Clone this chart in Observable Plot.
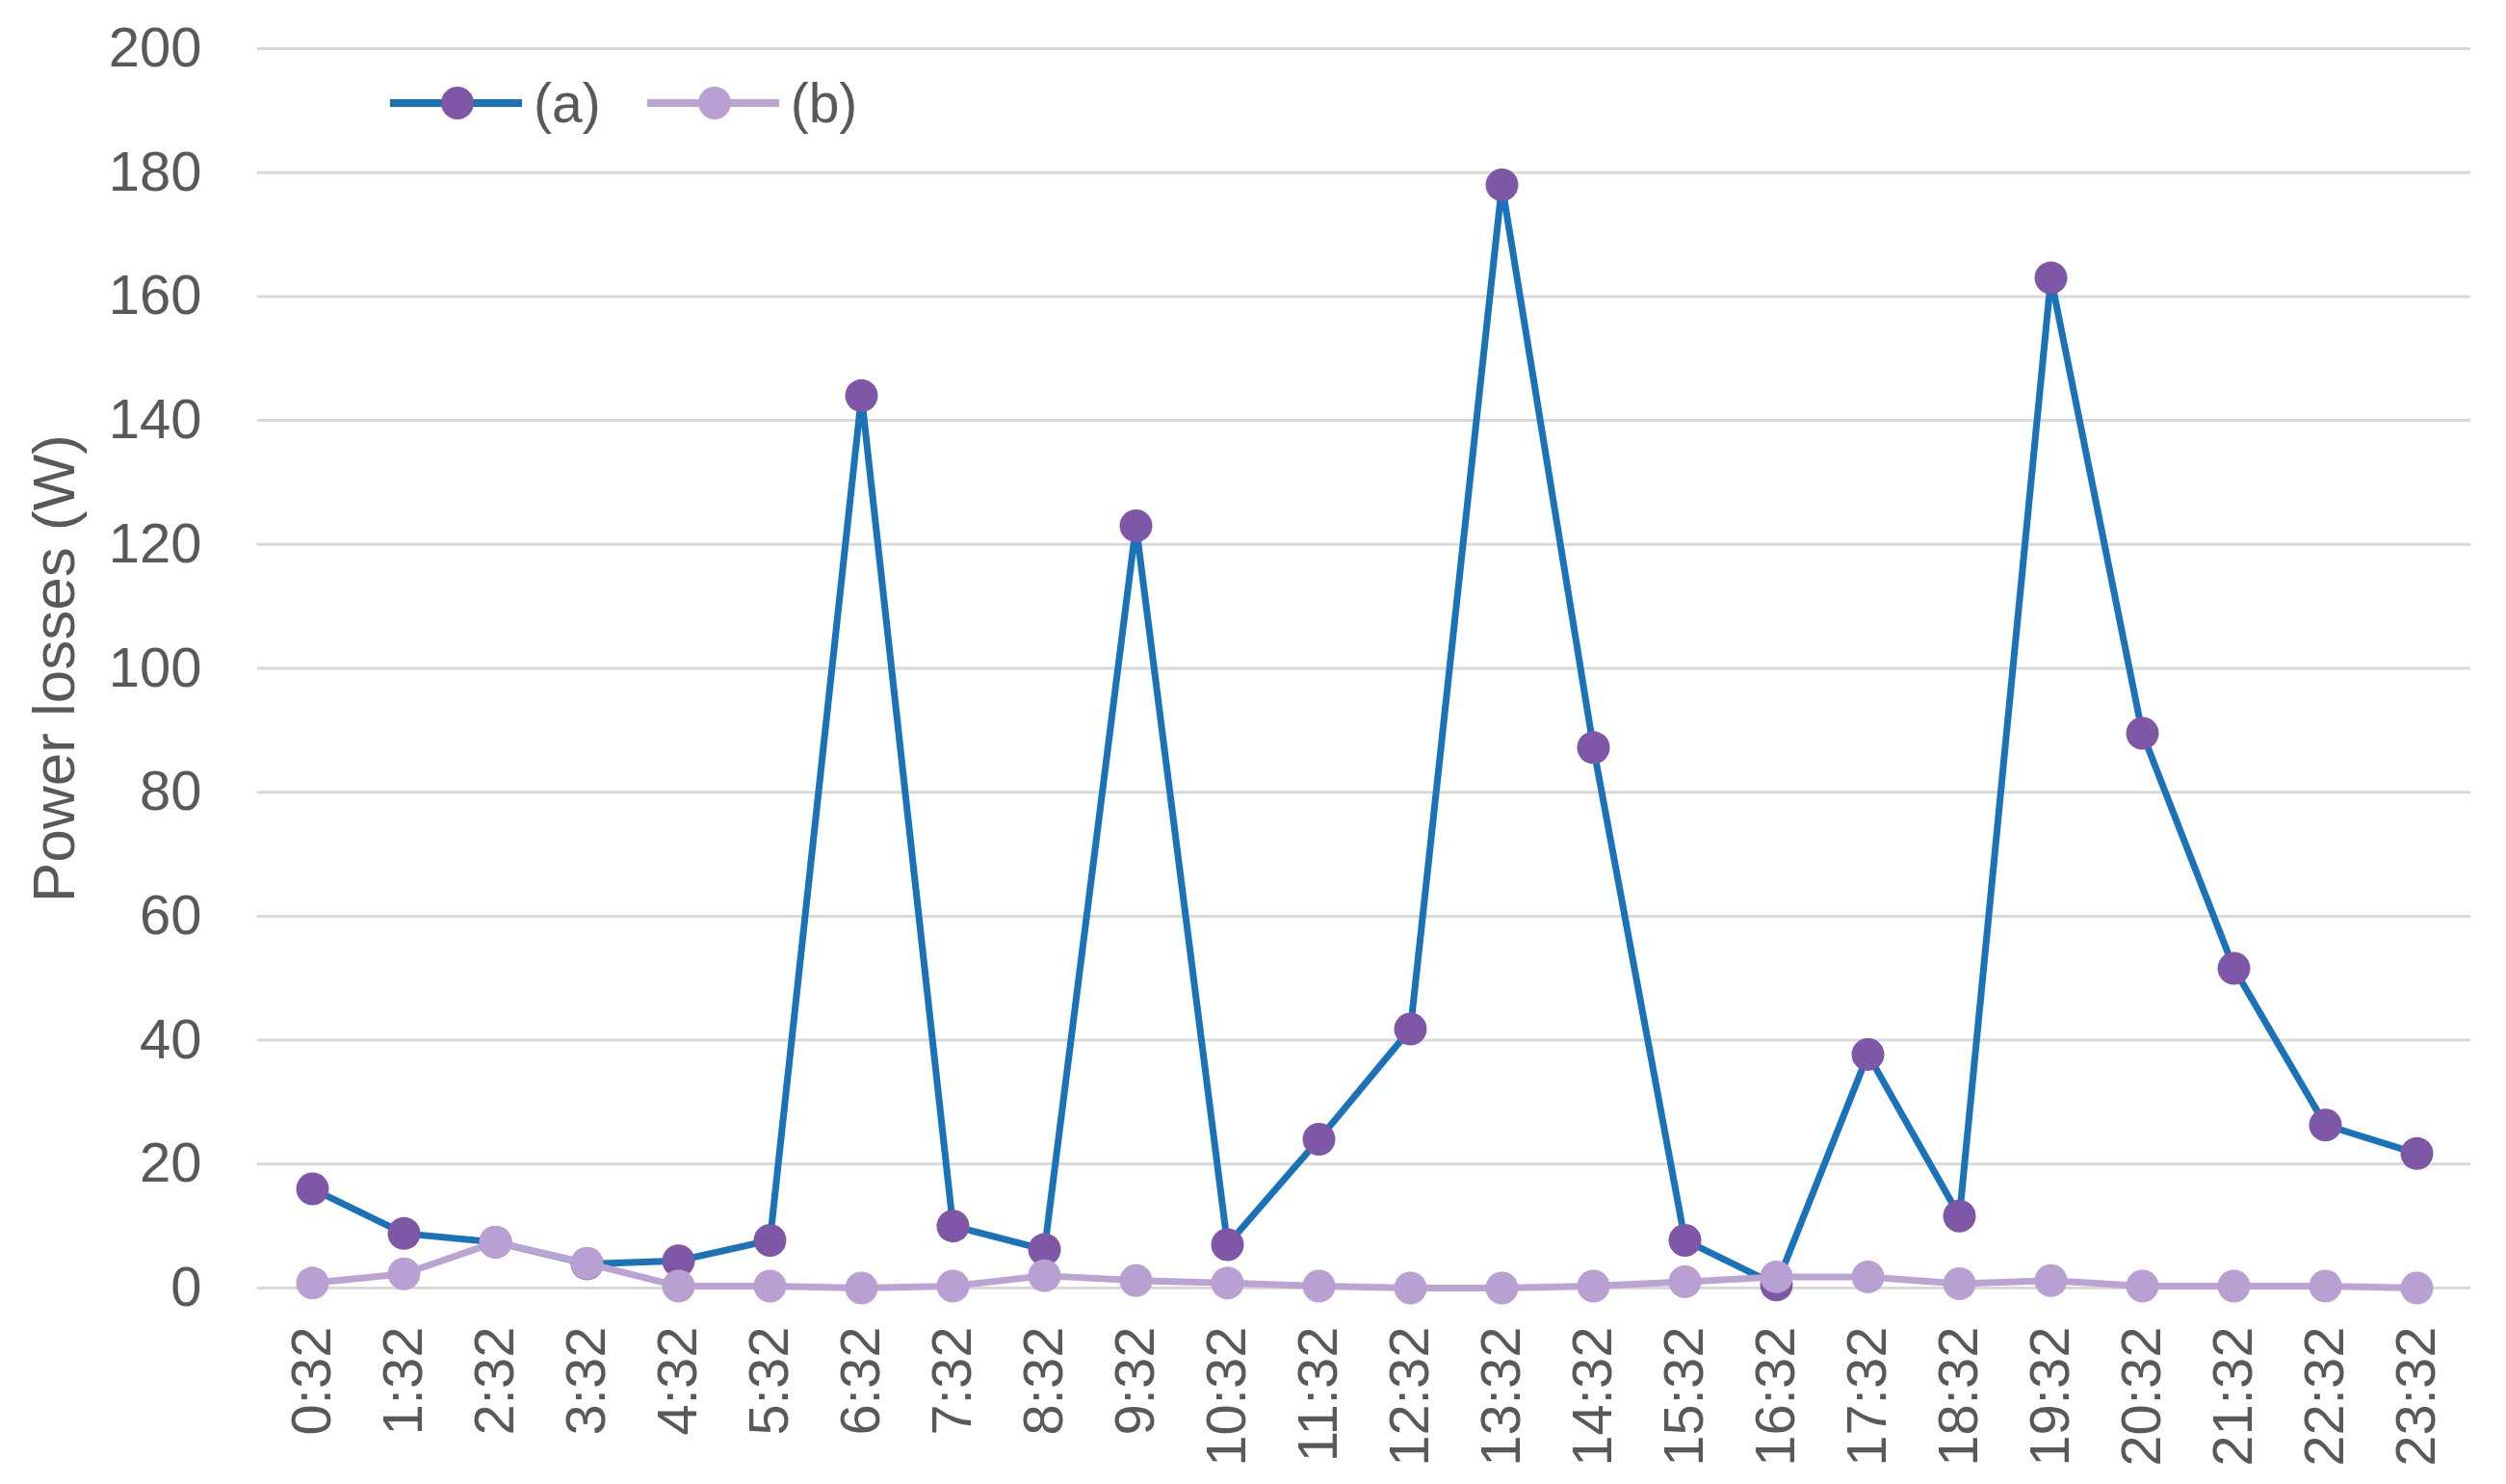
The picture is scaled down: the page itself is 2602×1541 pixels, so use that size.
<!DOCTYPE html>
<html>
<head>
<meta charset="utf-8">
<script src="https://cdn.jsdelivr.net/npm/d3@7"></script>
<script src="https://cdn.jsdelivr.net/npm/@observablehq/plot@0.6"></script>
<style>
  html, body { margin: 0; padding: 0; background: #fff; }
  #wrap { position: relative; width: 2602px; height: 1541px; }
  #legend { position: absolute; left: 405px; top: 74px; display: flex; align-items: center;
            font-family: "Liberation Sans", Arial, sans-serif; font-size: 57px; color: #595959; }
  #legend .item { display: flex; align-items: center; margin-right: 48px; }
  #legend svg { margin-right: 12px; }
</style>
</head>
<body>
<div id="wrap"><div id="legend"></div></div>
<script>
const times = ["0:32","1:32","2:32","3:32","4:32","5:32","6:32","7:32","8:32","9:32","10:32","11:32",
               "12:32","13:32","14:32","15:32","16:32","17:32","18:32","19:32","20:32","21:32","22:32","23:32"];
const seriesA = [16, 8.8, 7.4, 3.9, 4.4, 7.7, 144, 10, 6.2, 123, 7, 24,
                 41.8, 178, 87.2, 7.7, 0.5, 37.7, 11.6, 163, 89.5, 51.6, 26.3, 21.7];
const seriesB = [0.8, 2.3, 7.4, 4, 0.3, 0.3, 0, 0.3, 2, 1.2, 0.8, 0.3,
                 0, 0, 0.3, 1, 1.8, 1.8, 0.7, 1.2, 0.3, 0.3, 0.3, 0];
const seriesNames = ["(a)", "(b)"];
const yTicks = [0, 20, 40, 60, 80, 100, 120, 140, 160, 180, 200];
const yLabel = "Power losses (W)";

const lineColors = ["#1a72b8", "#bba4d4"];
const dotColors = ["#7e57a6", "#b9a0d2"];

const dataA = times.map((t, i) => ({time: t, value: seriesA[i]}));
const dataB = times.map((t, i) => ({time: t, value: seriesB[i]}));

const font = "Liberation Sans, Arial, sans-serif";

const chart = Plot.plot({
  width: 2602,
  height: 1541,
  marginLeft: 267,
  marginRight: 37,
  marginTop: 50,
  marginBottom: 204,
  style: {fontFamily: font, background: "#fff"},
  x: {type: "point", domain: times, padding: 0.5},
  y: {domain: [0, 200]},
  marks: [
    Plot.ruleY(yTicks, {stroke: "#d9d9d9", strokeWidth: 3}),
    Plot.axisY({ticks: yTicks, tickSize: 0, tickPadding: 58, fontSize: 58, fill: "#595959", label: null}),
    Plot.axisX({tickSize: 0, tickPadding: 40, tickRotate: -90, fontSize: 58, fill: "#595959", label: null}),
    Plot.text([yLabel], {frameAnchor: "left", dx: -210, rotate: -90, fontSize: 62, fill: "#595959",
                         textAnchor: "middle", lineAnchor: "middle"}),
    Plot.line(dataA, {x: "time", y: "value", stroke: lineColors[0], strokeWidth: 7}),
    Plot.dot(dataA, {x: "time", y: "value", r: 17, fill: dotColors[0], stroke: "none"}),
    Plot.line(dataB, {x: "time", y: "value", stroke: lineColors[1], strokeWidth: 7}),
    Plot.dot(dataB, {x: "time", y: "value", r: 17, fill: dotColors[1], stroke: "none"})
  ]
});
document.getElementById("wrap").prepend(chart);

const legend = document.getElementById("legend");
seriesNames.forEach((name, i) => {
  const item = document.createElement("div");
  item.className = "item";
  item.innerHTML = `<svg width="137" height="40"><line x1="0" x2="137" y1="20" y2="20" stroke="${lineColors[i]}" stroke-width="8"/><circle cx="70" cy="20" r="17" fill="${dotColors[i]}"/></svg><span>${name}</span>`;
  legend.appendChild(item);
});
</script>
</body>
</html>
